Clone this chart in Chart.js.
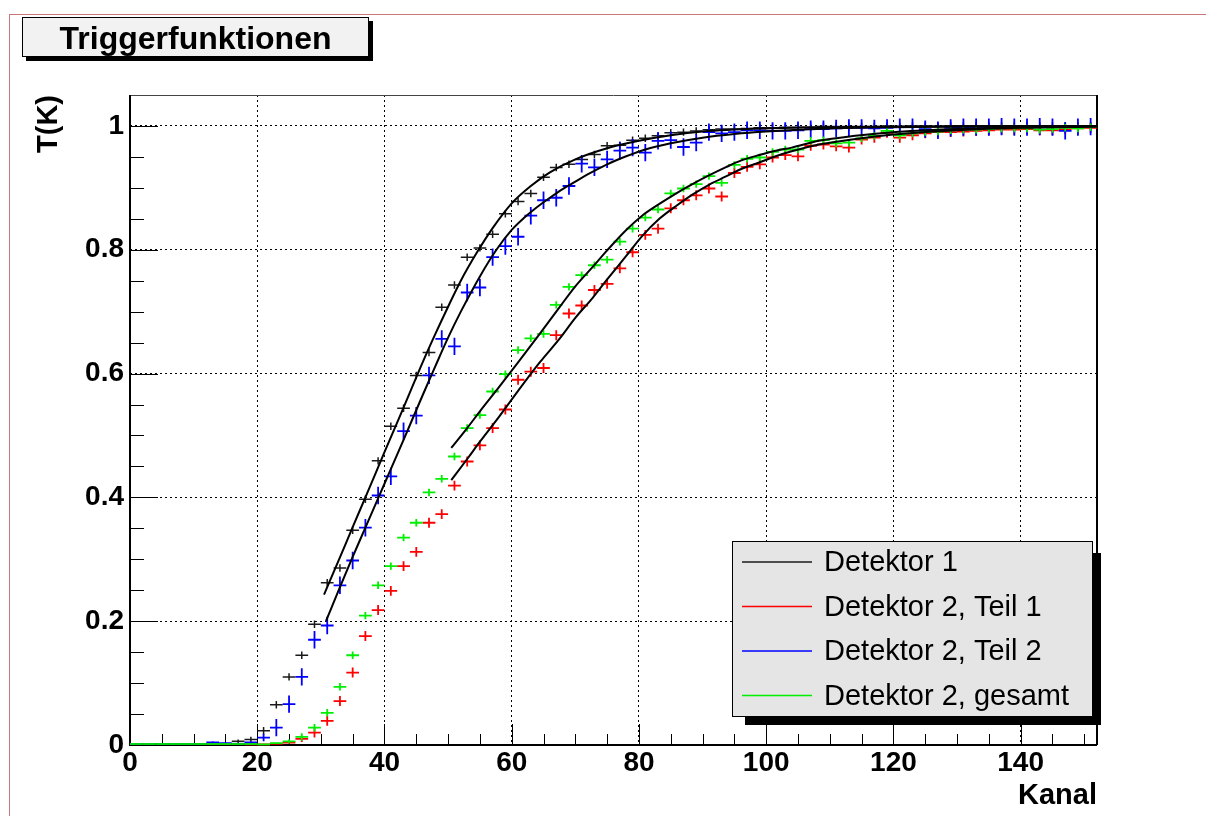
<!DOCTYPE html>
<html>
<head>
<meta charset="utf-8">
<script src="https://cdn.jsdelivr.net/npm/chart.js@4.4.0/dist/chart.umd.min.js"></script>
<style>
html,body{margin:0;padding:0;background:#fff;}
#wrap{position:relative;width:1206px;height:816px;overflow:hidden;background:#fff;}
#c{position:absolute;left:0;top:0;}
#pad{position:absolute;left:9px;top:14px;width:1197px;height:802px;border-top:1px solid #c87878;border-left:1px solid #c87878;box-sizing:border-box;pointer-events:none;}
#title{position:absolute;left:22px;top:17px;width:345px;height:38px;background:#f2f2f2;border:1px solid #000;box-shadow:4px 4px 0 #000;font:bold 32px 'Liberation Sans',Arial,sans-serif;text-align:center;line-height:40px;color:#000;}
</style>
</head>
<body>
<div id="wrap">
<canvas id="c" width="1206" height="816"></canvas>
<div id="pad"></div>
<div id="title">Triggerfunktionen</div>
</div>
<script>
// ---- data ----
const xCenters = [1,3,5,7,9,11,13,15,17,19,21,23,25,27,29,31,33,35,37,39,41,43,45,47,49,51,53,55,57,59,61,63,65,67,69,71,73,75,77,79,81,83,85,87,89,91,93,95,97,99,101,103,105,107,109,111,113,115,117,119,121,123,125,127,129,131,133,135,137,139,141,143,145,147,149,151];

const detektor1 = [0,0,0,0,0,0,0.001,0.002,0.006,0.009,
  0.023,0.065,0.110,0.145,0.195,0.262,0.286,0.347,0.397,0.459,
  0.515,0.544,0.597,0.634,0.707,0.743,0.788,0.803,0.825,0.858,
  0.878,0.891,0.917,0.933,0.938,0.946,0.954,0.968,0.969,0.977,
  0.980,0.984,0.989,0.990,0.992,0.994,0.995,0.995,0.996,0.997,
  0.997,0.998,0.998,0.998,0.999,0.999,0.999,0.999,0.999,1.0,
  0.999,1.0,1.0,0.999,1.0,1.0,1.0,1.0,1.0,1.0,
  1.0,1.0,1.0,1.0,1.0,1.0];

const teil1 = [0,0,0,0,0,0,0,0,0,0.001,
  0.001,0.002,0.004,0.010,0.020,0.039,0.071,0.117,0.176,0.218,
  0.249,0.289,0.312,0.359,0.373,0.419,0.458,0.484,0.512,0.542,
  0.590,0.603,0.609,0.662,0.697,0.710,0.735,0.745,0.770,0.796,
  0.824,0.834,0.867,0.880,0.888,0.899,0.886,0.924,0.934,0.938,
  0.949,0.953,0.951,0.968,0.970,0.967,0.965,0.978,0.981,0.989,
  0.981,0.985,0.988,0.990,0.990,0.991,0.992,0.993,0.994,0.994,
  0.995,0.993,0.993,0.995,0.996,0.997];

const teil2 = [0,0,0,0,0,0,0.004,0.003,0.002,0.004,
  0.012,0.028,0.066,0.110,0.170,0.193,0.258,0.298,0.351,0.403,
  0.434,0.507,0.532,0.597,0.656,0.644,0.731,0.739,0.788,0.806,
  0.821,0.855,0.880,0.884,0.903,0.939,0.933,0.946,0.960,0.965,
  0.957,0.976,0.977,0.966,0.973,0.990,0.988,0.990,0.993,0.993,
  0.992,0.992,0.993,0.995,0.995,0.996,0.997,0.997,0.996,0.997,
  0.998,0.998,0.995,0.993,0.997,0.998,0.998,0.998,0.999,0.998,
  0.998,0.999,0.998,0.992,0.998,0.999];

const gesamt = [0,0,0,0,0,0,0,0,0,0,
  0.001,0.003,0.006,0.013,0.028,0.052,0.094,0.145,0.209,0.258,
  0.289,0.335,0.359,0.408,0.430,0.466,0.512,0.533,0.571,0.599,
  0.638,0.657,0.664,0.711,0.740,0.759,0.775,0.784,0.813,0.834,
  0.852,0.865,0.891,0.899,0.906,0.919,0.908,0.937,0.947,0.949,
  0.958,0.962,0.962,0.976,0.977,0.972,0.973,0.980,0.984,0.992,
  0.985,0.988,0.990,0.991,0.993,0.994,0.994,0.995,0.996,0.996,
  0.996,0.994,0.995,0.997,0.996,0.998];

// vertical error half-sizes per series
const errDetektor1 = 0.006, errTeil1 = 0.008, errTeil2 = 0.014, errGesamt = 0.006;
const binHalfWidth = 1;

// fit curves
const fitD1X = [30.5,33,35,37,40,43,46,48,50,52,54.5,57,60,63,66,70,75,80,85,90,100,110,120,135,152];
const fitD1Y = [0.243,0.303,0.352,0.400,0.473,0.545,0.618,0.664,0.708,0.750,0.795,0.835,0.875,0.903,0.925,0.946,0.964,0.976,0.985,0.991,0.996,0.998,0.999,1.0,1.0];
const fitT2X = [30.8,33,35,37,40,43,46,48,50,52,55,57.6,60,62,64,66,68,70,72,75,78,81,85,90,95,100,110,120,135,152];
const fitT2Y = [0.200,0.255,0.304,0.351,0.422,0.493,0.565,0.612,0.658,0.700,0.757,0.800,0.832,0.852,0.869,0.884,0.898,0.910,0.922,0.938,0.951,0.962,0.972,0.981,0.987,0.991,0.996,0.998,0.9995,1.0];
const fitGX = [50.5,53,55,58,61,64.4,67.5,70,72.7,75,78,80.5,83.2,86,88.4,91,93.6,96,98.9,101.5,104,108.3,114,120,130,140,152];
const fitGY = [0.480,0.512,0.539,0.578,0.618,0.664,0.707,0.741,0.772,0.799,0.832,0.855,0.874,0.892,0.906,0.920,0.933,0.944,0.953,0.960,0.965,0.976,0.984,0.990,0.995,0.998,0.999];
const fitT1X = [50.5,53,55,58,61,64.4,67.5,70,72.7,75,78,80.5,83.2,86,88.4,91,93.6,96,98.9,101.5,104,108.3,114,120,130,140,152];
const fitT1Y = [0.428,0.462,0.490,0.530,0.572,0.618,0.656,0.690,0.722,0.752,0.790,0.822,0.850,0.872,0.889,0.905,0.918,0.930,0.941,0.951,0.959,0.970,0.979,0.986,0.993,0.997,0.999];

const seriesLabels = ['Detektor 1','Detektor 2, Teil 1','Detektor 2, Teil 2','Detektor 2, gesamt'];
const xTickValues = [0,20,40,60,80,100,120,140];
const xTickLabels = ['0','20','40','60','80','100','120','140'];
const yTickValues = [0,0.2,0.4,0.6,0.8,1];
const yTickLabels = ['0','0.2','0.4','0.6','0.8','1'];
const xTitle = 'Kanal';
const yTitle = 'T(K)';

// ---- styles ----
const colD1 = '#1a1a1a', colT1 = '#ff0000', colT2 = '#0000ff', colG = '#00ee00';
const FONT = "'Liberation Sans', Arial, sans-serif";
Chart.defaults.font.family = FONT;
Chart.defaults.color = '#000';

function pts(arr){ return xCenters.map((x,i)=>({x:x, y:arr[i]})); }
function fitPts(xs, ys){ return xs.map((x,i)=>({x:x, y:ys[i]})); }

function pointSet(label, arr, color, err, width){
  return {type:'scatter', label:label, data:pts(arr), showLine:false, pointRadius:0,
    crossColor:color, errY:err, binHalf:binHalfWidth, crossWidth:width, legendColor:color};
}
function fitSet(xs, ys){
  return {type:'line', label:'fit', data:fitPts(xs, ys), borderColor:'#000', borderWidth:2,
    pointRadius:0, fill:false, cubicInterpolationMode:'monotone', isFit:true};
}

const frameTicksPlugin = {
  id:'frameTicks',
  beforeDatasetsDraw(chart){
    const {ctx, chartArea:a, scales:{x, y}} = chart;
    ctx.save();
    ctx.strokeStyle = '#000';
    ctx.lineWidth = 1;
    for(let v = 0; v <= x.max + 1e-9; v += 5){
      const px = Math.round(x.getPixelForValue(v)) + 0.5;
      const len = (v % 20 === 0) ? 21 : 11;
      ctx.beginPath(); ctx.moveTo(px, a.bottom); ctx.lineTo(px, a.bottom - len); ctx.stroke();
    }
    for(let k = 0; k <= 21; k++){
      const v = k * 0.05;
      if(v > y.max + 1e-9) break;
      const py = Math.round(y.getPixelForValue(v)) + 0.5;
      const len = (k % 4 === 0) ? 28 : 14;
      ctx.beginPath(); ctx.moveTo(a.left, py); ctx.lineTo(a.left + len, py); ctx.stroke();
    }
    ctx.lineWidth = 1;
    ctx.strokeStyle = '#444';
    ctx.beginPath(); ctx.moveTo(a.left, a.top + 0.5); ctx.lineTo(a.right, a.top + 0.5); ctx.stroke();
    ctx.strokeStyle = '#000';
    ctx.lineWidth = 2;
    ctx.beginPath(); ctx.moveTo(a.right, a.top); ctx.lineTo(a.right, a.bottom); ctx.stroke();
    ctx.beginPath(); ctx.moveTo(a.left, a.top); ctx.lineTo(a.left, a.bottom); ctx.lineTo(a.right, a.bottom); ctx.stroke();
    ctx.restore();
  }
};

const crossPlugin = {
  id:'crosses',
  beforeDatasetsDraw(chart){
    const {ctx, chartArea:a, scales:{x, y}} = chart;
    ctx.save();
    ctx.beginPath(); ctx.rect(a.left, a.top, a.right - a.left, a.bottom - a.top + 2); ctx.clip();
    chart.data.datasets.forEach(ds=>{
      if(!ds.errY) return;
      ctx.strokeStyle = ds.crossColor; ctx.lineWidth = ds.crossWidth;
      ds.data.forEach(p=>{
        const px = x.getPixelForValue(p.x), py = y.getPixelForValue(p.y);
        const x0 = x.getPixelForValue(p.x - ds.binHalf), x1 = x.getPixelForValue(p.x + ds.binHalf);
        ctx.beginPath(); ctx.moveTo(x0, py - (p.y === 0 ? 1 : 0)); ctx.lineTo(x1, py - (p.y === 0 ? 1 : 0));
        const e = Math.min(ds.errY, p.y * 0.5);
        if(e > 0.001){
          ctx.moveTo(px, y.getPixelForValue(p.y - e)); ctx.lineTo(px, y.getPixelForValue(p.y + e));
        }
        ctx.stroke();
      });
    });
    ctx.restore();
  }
};

const legendBox = {left:732, top:541, right:1093, bottom:717, shadowDx:13, shadowDy:12, shadowExtra:8,
  lineX0:742, lineX1:812, textX:824, firstY:562, stepY:44.5, fontSize:29};

const legendPlugin = {
  id:'roLegend',
  afterDraw(chart){
    const {ctx} = chart;
    const L = legendBox;
    ctx.save();
    ctx.fillStyle = '#000';
    ctx.fillRect(L.left + L.shadowDx, L.top + L.shadowDy, L.right - L.left - L.shadowDx + L.shadowExtra, L.bottom - L.top - L.shadowDy + L.shadowExtra);
    ctx.fillStyle = '#e5e5e5';
    ctx.fillRect(L.left, L.top, L.right - L.left, L.bottom - L.top);
    ctx.strokeStyle = '#000'; ctx.lineWidth = 1;
    ctx.strokeRect(L.left + 0.5, L.top + 0.5, L.right - L.left - 1, L.bottom - L.top - 1);
    const items = chart.data.datasets.filter(d=>d.errY);
    ctx.font = L.fontSize + 'px ' + FONT;
    ctx.textBaseline = 'middle';
    ctx.textAlign = 'left';
    items.forEach((ds, i)=>{
      const yy = L.firstY + i * L.stepY;
      ctx.strokeStyle = ds.legendColor; ctx.lineWidth = 1.5;
      ctx.beginPath(); ctx.moveTo(L.lineX0, yy); ctx.lineTo(L.lineX1, yy); ctx.stroke();
      ctx.fillStyle = '#000';
      ctx.fillText(ds.label, L.textX, yy + 1);
    });
    ctx.restore();
  }
};

new Chart(document.getElementById('c'), {
  type:'scatter',
  data:{datasets:[
    pointSet(seriesLabels[0], detektor1, colD1, errDetektor1, 1.5),
    pointSet(seriesLabels[1], teil1, colT1, errTeil1, 1.8),
    pointSet(seriesLabels[2], teil2, colT2, errTeil2, 1.8),
    pointSet(seriesLabels[3], gesamt, colG, errGesamt, 1.8),
    fitSet(fitD1X, fitD1Y),
    fitSet(fitT1X, fitT1Y),
    fitSet(fitT2X, fitT2Y),
    fitSet(fitGX, fitGY)
  ]},
  options:{
    responsive:false, animation:false, devicePixelRatio:1,
    layout:{padding:{top:95, right:109, left:0, bottom:0}},
    plugins:{legend:{display:false}, tooltip:{enabled:false}},
    scales:{
      x:{type:'linear', min:0, max:152,
        afterBuildTicks:s=>{ s.ticks = xTickValues.map(v=>({value:v})); },
        afterFit:s=>{ s.height = 71; },
        ticks:{callback:(v,i)=>xTickLabels[i], font:{size:28, weight:'bold'}, color:'#000', padding:1, maxRotation:0, autoSkip:false},
        grid:{color:'#000', lineWidth:1, drawTicks:false},
        border:{display:false, dash:[2,3]},
        title:{display:true, text:xTitle, align:'end', font:{size:29, weight:'bold'}, color:'#000', padding:{top:0, bottom:3}}
      },
      y:{type:'linear', min:0, max:1.05,
        afterBuildTicks:s=>{ s.ticks = yTickValues.map(v=>({value:v})); },
        afterFit:s=>{ s.width = 130; },
        ticks:{callback:(v,i)=>yTickLabels[i], font:{size:28, weight:'bold'}, color:'#000', padding:6, autoSkip:false},
        grid:{color:'#000', lineWidth:1, drawTicks:false},
        border:{display:false, dash:[2,3]},
        title:{display:true, text:yTitle, align:'end', font:{size:29, weight:'bold'}, color:'#000', padding:{top:32, bottom:0}}
      }
    }
  },
  plugins:[frameTicksPlugin, crossPlugin, legendPlugin]
});
</script>
</body>
</html>
